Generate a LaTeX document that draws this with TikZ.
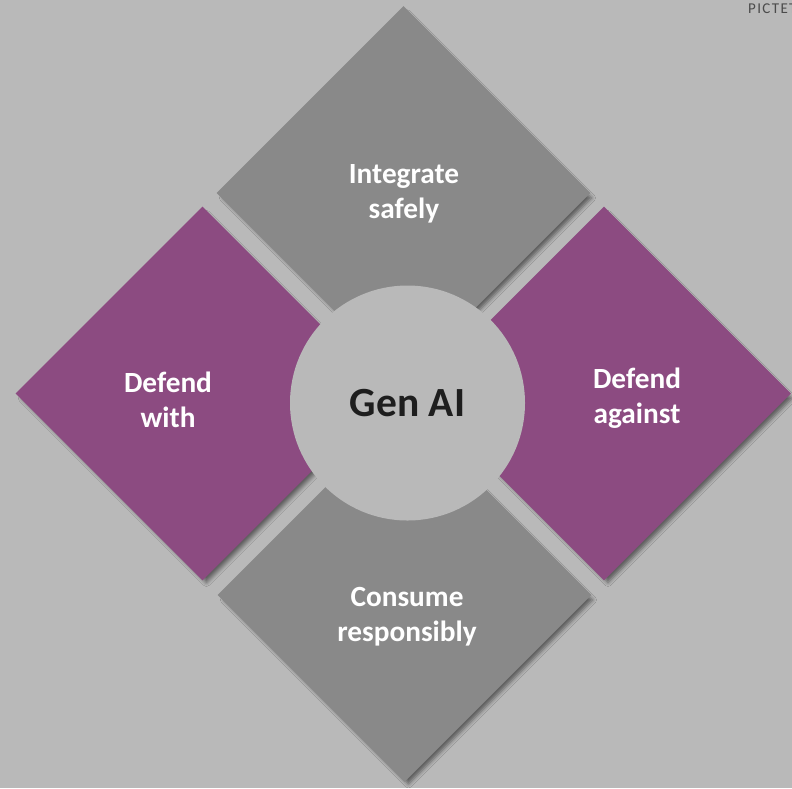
\documentclass[tikz,border=0pt]{standalone}
\usepackage{fontspec}
\setmainfont{Carlito}
\usetikzlibrary{shapes.geometric,shadows.blur}

\definecolor{canvasgray}{RGB}{185,185,185}
\definecolor{tilegray}{RGB}{137,137,137}
\definecolor{plum}{RGB}{140,75,129}
\definecolor{coreink}{RGB}{30,30,30}
\definecolor{logoink}{RGB}{75,75,75}

\begin{document}
\begin{tikzpicture}[x=1pt,y=-1pt,
  quadrant/.style={diamond, minimum width=374pt, minimum height=374pt,
    inner sep=0pt, draw=none,
    blur shadow={shadow xshift=4pt, shadow yshift=-5pt, shadow scale=0.985,
      shadow blur radius=4pt, shadow opacity=50}},
  greytile/.style={quadrant, fill=tilegray},
  plumtile/.style={quadrant, fill=plum},
  caption/.style={text=white, align=center, inner sep=0pt,
    font=\bfseries\fontsize{29.3}{35}\selectfont},
  hub/.style={circle, fill=canvasgray, minimum size=235pt, inner sep=0pt,
    text=coreink, font=\bfseries\fontsize{41.5}{48}\selectfont}]

  % page
  \useasboundingbox (0,0) rectangle (792,788);
  \fill[canvasgray] (0,0) rectangle (792,788);

  % logo, running off the right edge
  \node[anchor=base west, inner sep=0pt, text=logoink,
    font=\fontsize{15}{17}\selectfont\addfontfeature{LetterSpace=9}]
    (logo) at (748,13.3) {PICTET};

  % four quadrants
  \node[greytile] (top)    at (403.5,193) {};
  \node[plumtile] (left)   at (202.5,393.5) {};
  \node[plumtile] (right)  at (604,393.5) {};
  \node[greytile] (bottom) at (404.5,595) {};

  % central hub
  \node[hub] (core) at (407.5,403) {Gen AI};

  % quadrant captions
  \node[caption] (topcap)    at (404,193.3) {Integrate\\safely};
  \node[caption] (leftcap)   at (168,399.6) {Defend\\with};
  \node[caption] (rightcap)  at (637,397.7) {Defend\\against};
  \node[caption] (bottomcap) at (407,616.3) {Consume\\responsibly};
\end{tikzpicture}
\end{document}
